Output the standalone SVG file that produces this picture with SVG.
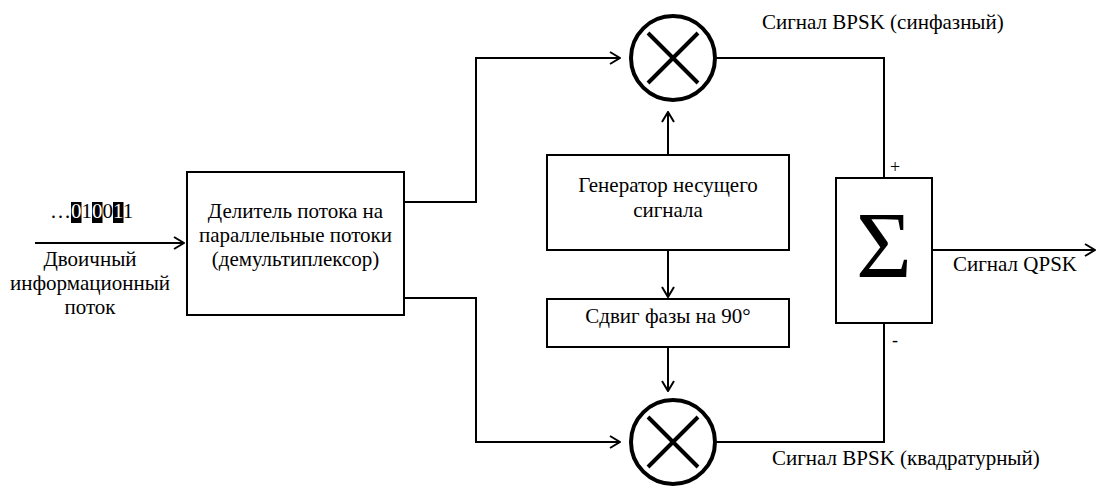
<svg xmlns="http://www.w3.org/2000/svg" width="1100" height="488" viewBox="0 0 1100 488">
<style>
text{font-family:'Liberation Serif','DejaVu Serif',serif;font-size:21px;fill:#000}
.box{fill:#fff;stroke:#000;stroke-width:2}
.ln{fill:none;stroke:#000;stroke-width:2}
.mul{fill:none;stroke:#000;stroke-width:4}
.c{text-anchor:middle}
.hl{fill:#fff}
</style>
<defs>
<marker id="ah" viewBox="0 0 12 14" markerWidth="12" markerHeight="14" refX="11" refY="7" orient="auto" markerUnits="userSpaceOnUse">
<path d="M1,1 L11,7 L1,13" fill="none" stroke="#000" stroke-width="2"/>
</marker>
</defs>
<rect width="1100" height="488" fill="#fff"/>
<g id="connectors">
<line class="ln" x1="35" y1="243" x2="184" y2="243" marker-end="url(#ah)"/>
<polyline class="ln" points="404,202 476,202 476,58 620,58" marker-end="url(#ah)"/>
<polyline class="ln" points="404,298 476,298 476,442 620,442" marker-end="url(#ah)"/>
<line class="ln" x1="668" y1="155" x2="668" y2="112" marker-end="url(#ah)"/>
<line class="ln" x1="668" y1="250" x2="668" y2="297" marker-end="url(#ah)"/>
<line class="ln" x1="668" y1="347" x2="668" y2="391" marker-end="url(#ah)"/>
<polyline class="ln" points="717,58 884,58 884,178"/>
<polyline class="ln" points="717,442 884,442 884,323"/>
<line class="ln" x1="932" y1="250" x2="1095" y2="250" marker-end="url(#ah)"/>
</g>
<g id="input">
<rect x="71" y="202" width="10.5" height="21" fill="#000"/>
<rect x="92" y="202" width="10.5" height="21" fill="#000"/>
<rect x="113" y="202" width="10.5" height="21" fill="#000"/>
<text x="50" y="218">…<tspan class="hl">0</tspan>1<tspan class="hl">0</tspan>0<tspan class="hl">1</tspan>1</text>
<text class="c" x="90" y="266">Двоичный</text>
<text class="c" x="90" y="290">информационный</text>
<text class="c" x="90" y="314">поток</text>
</g>
<g id="demux">
<rect class="box" x="187" y="172" width="217" height="143"/>
<text class="c" x="295.5" y="218">Делитель потока на</text>
<text class="c" x="295.5" y="242">параллельные потоки</text>
<text class="c" x="295.5" y="266">(демультиплексор)</text>
</g>
<g id="generator">
<rect class="box" x="547" y="155" width="242" height="95"/>
<text class="c" x="668" y="192">Генератор несущего</text>
<text class="c" x="668" y="217">сигнала</text>
</g>
<g id="phase">
<rect class="box" x="547" y="299" width="242" height="48"/>
<text class="c" x="668" y="323">Сдвиг фазы на 90°</text>
</g>
<g id="mul-top">
<circle class="mul" cx="673" cy="58" r="42"/>
<path class="mul" d="M648,33 L698,83 M698,33 L648,83"/>
<text x="762" y="29">Сигнал BPSK (синфазный)</text>
</g>
<g id="mul-bottom">
<circle class="mul" cx="673" cy="442" r="42"/>
<path class="mul" d="M648,417 L698,467 M698,417 L648,467"/>
<text x="772" y="465">Сигнал BPSK (квадратурный)</text>
</g>
<g id="sum">
<rect class="box" x="836" y="178" width="96" height="145"/>
<text class="c" x="884" y="278" style="font-size:96px">Σ</text>
<text x="890" y="173" style="font-size:18px">+</text>
<text x="892" y="346" style="font-size:18px">-</text>
<text x="953" y="271">Сигнал QPSK</text>
</g>
</svg>
